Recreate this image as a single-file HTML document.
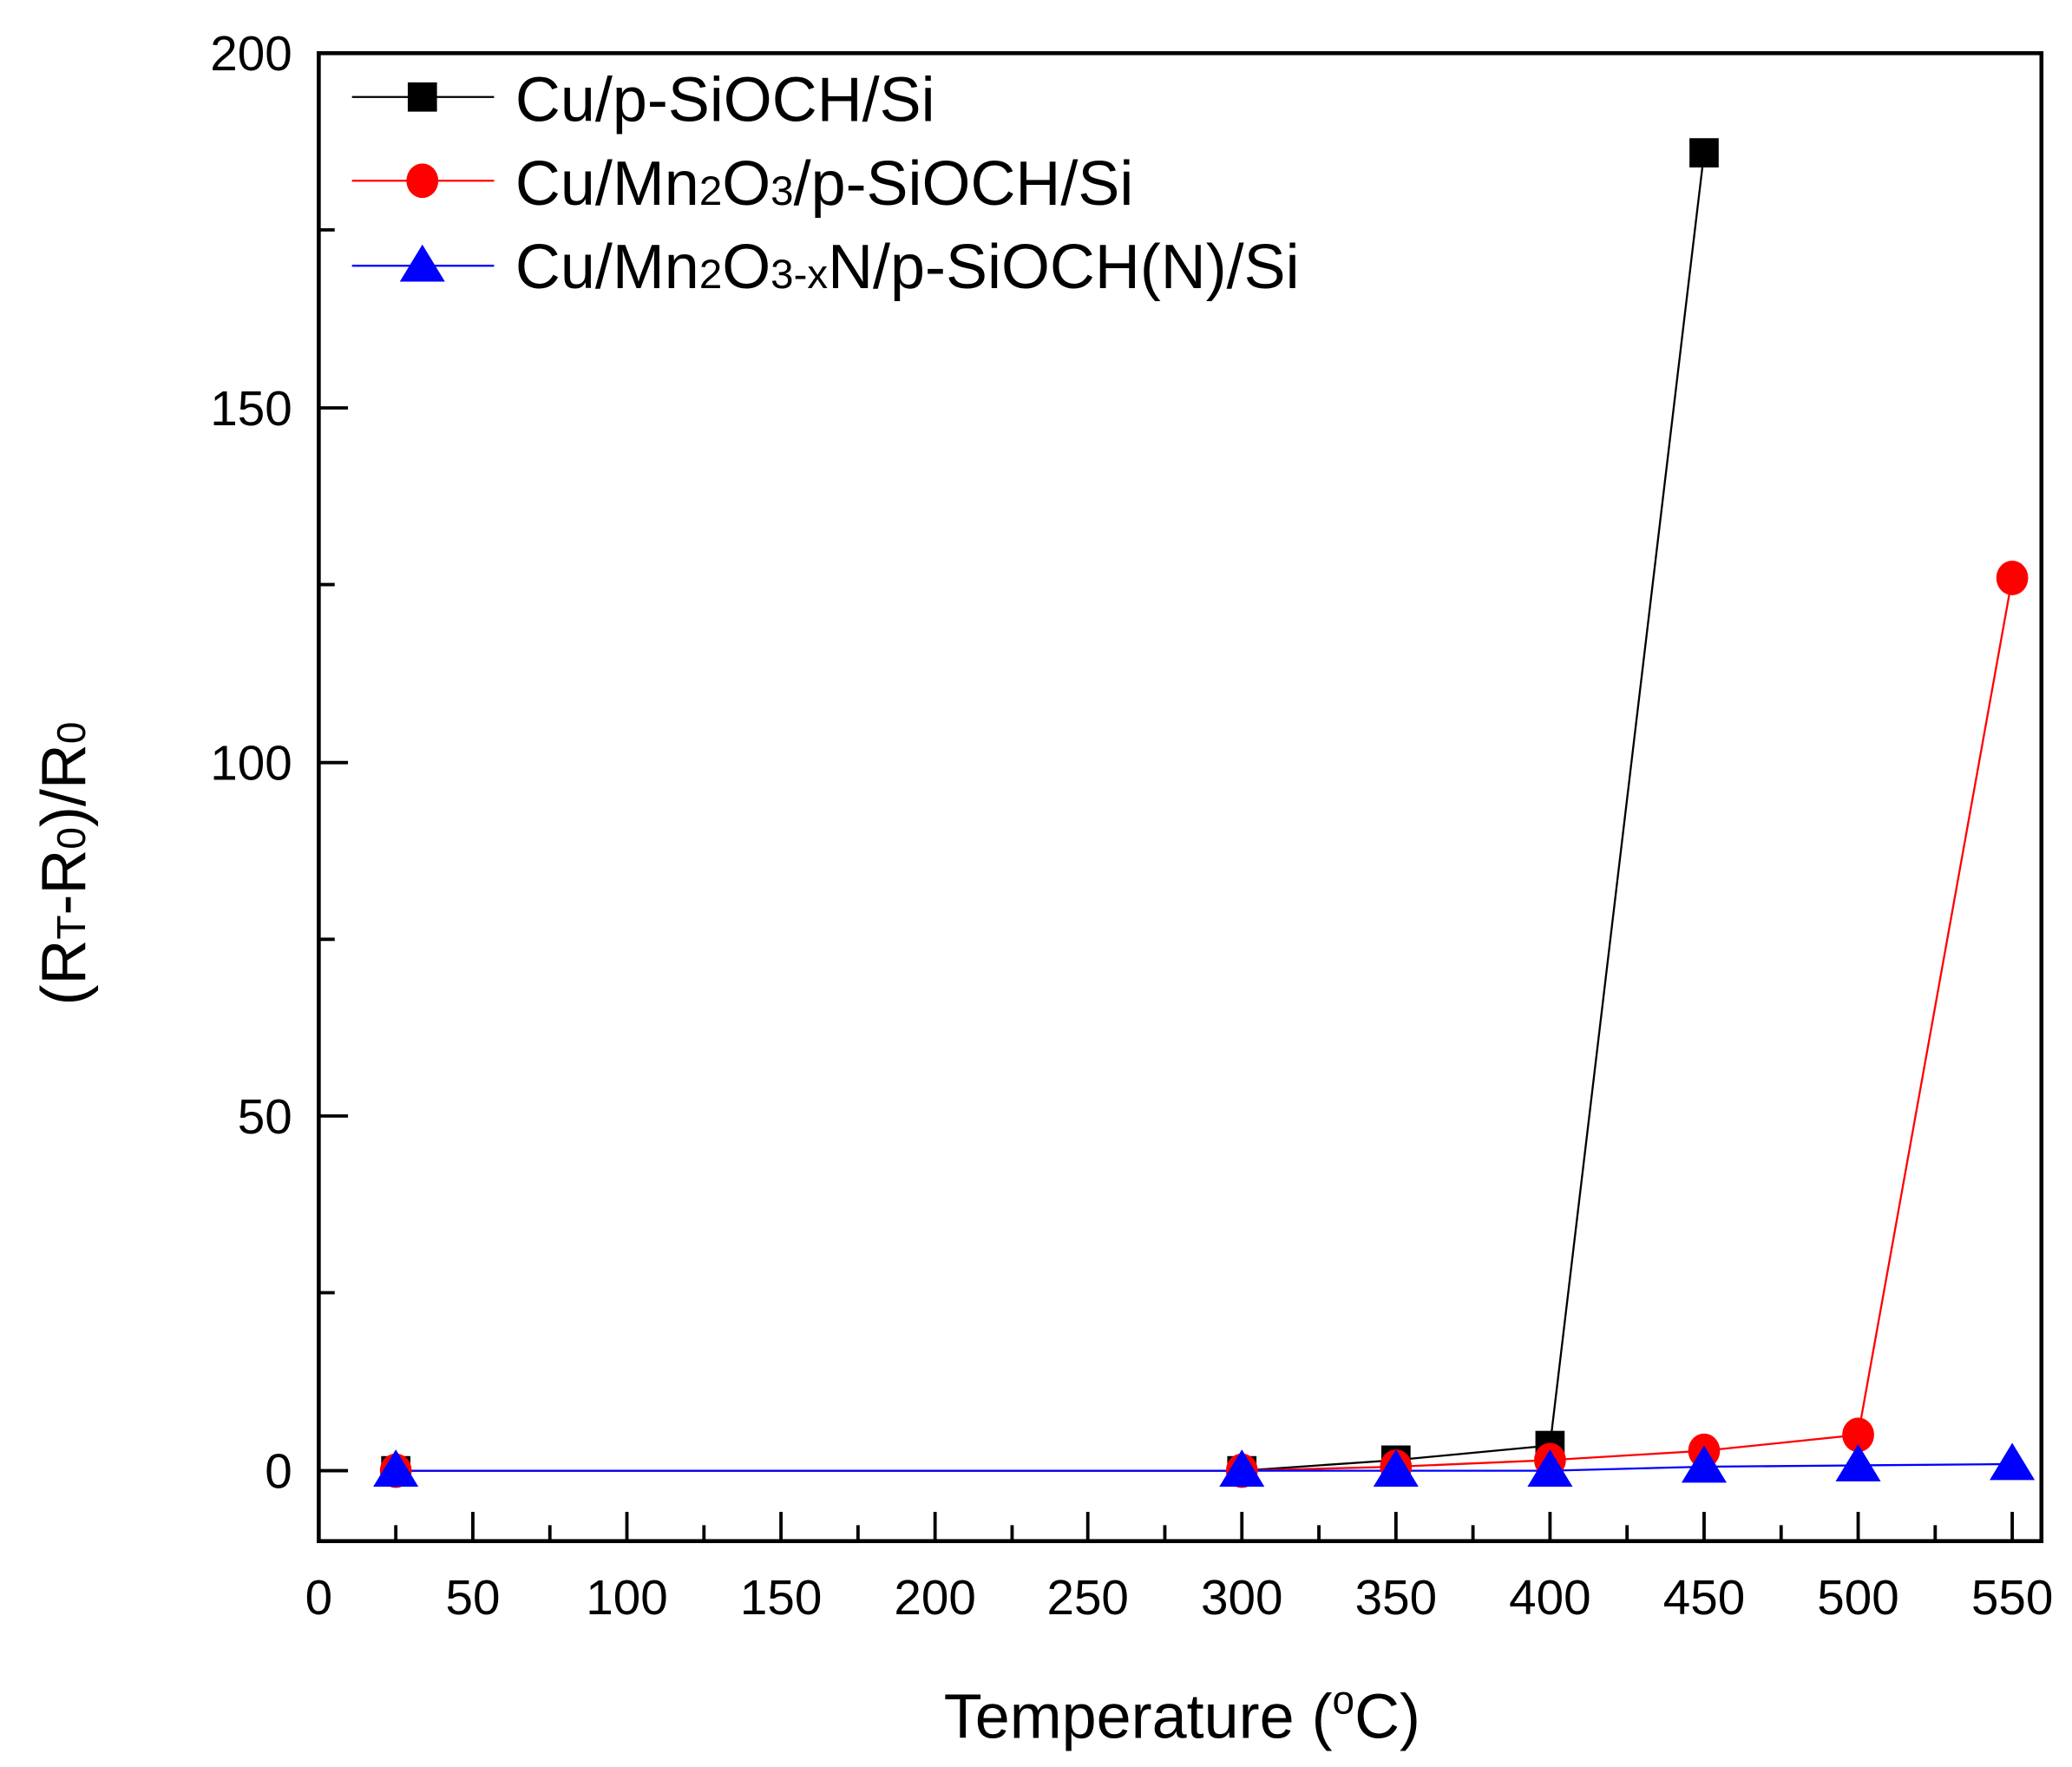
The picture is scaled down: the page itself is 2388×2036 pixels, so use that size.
<!DOCTYPE html>
<html><head><meta charset="utf-8"><style>html,body{margin:0;padding:0;background:#fff}svg{display:block}</style></head>
<body>
<svg width="2388" height="2036" viewBox="0 0 1560 1330" xmlns="http://www.w3.org/2000/svg" font-family="Liberation Sans, Arial, sans-serif">
<rect width="1560" height="1330" fill="#fff"/>
<g stroke="#000" stroke-width="2.5">
<line x1="356" y1="1160" x2="356" y2="1138"/><line x1="472" y1="1160" x2="472" y2="1138"/><line x1="588" y1="1160" x2="588" y2="1138"/><line x1="704" y1="1160" x2="704" y2="1138"/><line x1="819" y1="1160" x2="819" y2="1138"/><line x1="935" y1="1160" x2="935" y2="1138"/><line x1="1051" y1="1160" x2="1051" y2="1138"/><line x1="1167" y1="1160" x2="1167" y2="1138"/><line x1="1283" y1="1160" x2="1283" y2="1138"/><line x1="1399" y1="1160" x2="1399" y2="1138"/><line x1="1515" y1="1160" x2="1515" y2="1138"/>
<line x1="298" y1="1160" x2="298" y2="1148"/><line x1="414" y1="1160" x2="414" y2="1148"/><line x1="530" y1="1160" x2="530" y2="1148"/><line x1="646" y1="1160" x2="646" y2="1148"/><line x1="762" y1="1160" x2="762" y2="1148"/><line x1="877" y1="1160" x2="877" y2="1148"/><line x1="993" y1="1160" x2="993" y2="1148"/><line x1="1109" y1="1160" x2="1109" y2="1148"/><line x1="1225" y1="1160" x2="1225" y2="1148"/><line x1="1341" y1="1160" x2="1341" y2="1148"/><line x1="1457" y1="1160" x2="1457" y2="1148"/>
<line x1="240" y1="1107" x2="262" y2="1107"/><line x1="240" y1="840" x2="262" y2="840"/><line x1="240" y1="574" x2="262" y2="574"/><line x1="240" y1="307" x2="262" y2="307"/>
<line x1="240" y1="973" x2="252" y2="973"/><line x1="240" y1="707" x2="252" y2="707"/><line x1="240" y1="440" x2="252" y2="440"/><line x1="240" y1="173" x2="252" y2="173"/>
</g>
<rect x="240" y="40" width="1297" height="1120" fill="none" stroke="#000" stroke-width="3"/>
<g font-size="37" text-anchor="middle" fill="#000">
<text x="240" y="1215">0</text><text x="356" y="1215">50</text><text x="472" y="1215">100</text><text x="588" y="1215">150</text><text x="704" y="1215">200</text><text x="819" y="1215">250</text><text x="935" y="1215">300</text><text x="1051" y="1215">350</text><text x="1167" y="1215">400</text><text x="1283" y="1215">450</text><text x="1399" y="1215">500</text><text x="1515" y="1215">550</text>
</g>
<g font-size="37" text-anchor="end" fill="#000">
<text x="220" y="1120">0</text><text x="220" y="853">50</text><text x="220" y="587">100</text><text x="220" y="320">150</text><text x="220" y="53">200</text>
</g>
<text x="890" y="1308" font-size="47" text-anchor="middle">Temperature (<tspan font-size="30" dy="-18">o</tspan><tspan dy="18">C)</tspan></text>
<text transform="translate(64,650) rotate(-90)" font-size="47" text-anchor="middle">(R<tspan font-size="30">T</tspan>-R<tspan font-size="30">0</tspan>)/R<tspan font-size="30">0</tspan></text>
<polyline fill="none" stroke="#000" stroke-width="1.5" points="298,1107 935,1107 1051,1099 1167,1088 1283,115"/>
<polyline fill="none" stroke="#f00" stroke-width="1.5" points="298,1107 935,1107 1051,1104 1167,1099 1283,1092 1399,1080 1515,435"/>
<polyline fill="none" stroke="#00f" stroke-width="1.5" points="298,1107 935,1107 1051,1107 1167,1107 1283,1104 1399,1103 1515,1102"/>
<g fill="#000">
<rect x="287" y="1096" width="22" height="22"/><rect x="924" y="1096" width="22" height="22"/><rect x="1040" y="1088" width="22" height="22"/><rect x="1156" y="1077" width="22" height="22"/><rect x="1272" y="104" width="22" height="22"/>
</g>
<g fill="#f00">
<ellipse cx="298" cy="1107" rx="12" ry="13"/><ellipse cx="935" cy="1107" rx="12" ry="13"/><ellipse cx="1051" cy="1104" rx="12" ry="13"/><ellipse cx="1167" cy="1099" rx="12" ry="13"/><ellipse cx="1283" cy="1092" rx="12" ry="13"/><ellipse cx="1399" cy="1080" rx="12" ry="13"/><ellipse cx="1515" cy="435" rx="12" ry="13"/>
</g>
<g fill="#00f">
<polygon points="298,1091 315,1119 281,1119"/><polygon points="935,1091 952,1119 918,1119"/><polygon points="1051,1091 1068,1119 1034,1119"/><polygon points="1167,1091 1184,1119 1150,1119"/><polygon points="1283,1088 1300,1116 1266,1116"/><polygon points="1399,1087 1416,1115 1382,1115"/><polygon points="1515,1086 1532,1114 1498,1114"/>
</g>
<line x1="265" y1="73" x2="372" y2="73" stroke="#000" stroke-width="1.5"/><rect x="307" y="62" width="22" height="22" fill="#000"/>
<line x1="265" y1="136" x2="372" y2="136" stroke="#f00" stroke-width="1.5"/><ellipse cx="318" cy="136" rx="12" ry="13" fill="#f00"/>
<line x1="265" y1="200" x2="372" y2="200" stroke="#00f" stroke-width="1.5"/><polygon points="318,184 335,212 301,212" fill="#00f"/>
<g font-size="47" fill="#000">
<text x="388" y="91">Cu/p-SiOCH/Si</text>
<text x="388" y="154">Cu/Mn<tspan font-size="31">2</tspan>O<tspan font-size="31">3</tspan>/p-SiOCH/Si</text>
<text x="388" y="217">Cu/Mn<tspan font-size="31">2</tspan>O<tspan font-size="31">3-x</tspan>N/p-SiOCH(N)/Si</text>
</g>
</svg>
</body></html>
